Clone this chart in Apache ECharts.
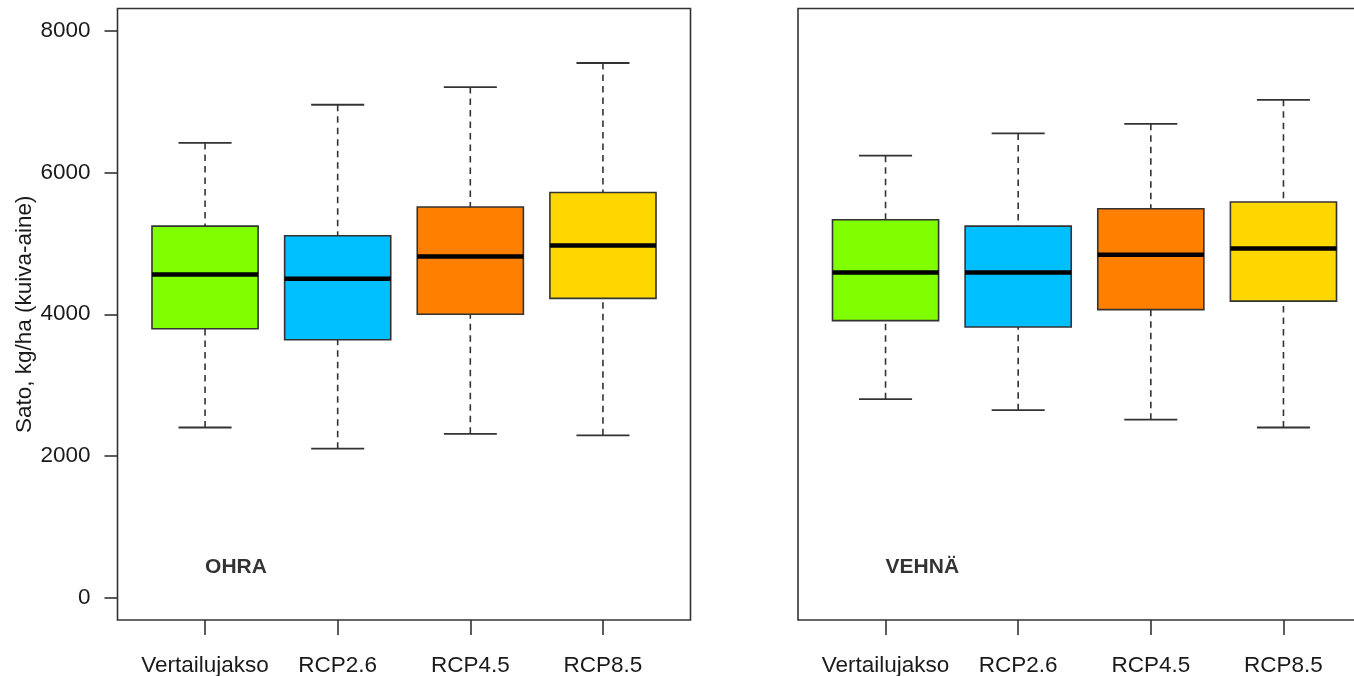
<!DOCTYPE html>
<html>
<head>
<meta charset="utf-8">
<title>Sato</title>
<script src="https://cdn.jsdelivr.net/npm/echarts@6/dist/echarts.min.js"></script>
<style>
  html, body { margin: 0; padding: 0; background: #ffffff; }
  #chart { width: 1354px; height: 676px; }
</style>
</head>
<body>
<div id="chart"></div>
<script>
// Jaksot / skenaariot
const categories = ['Vertailujakso', 'RCP2.6', 'RCP4.5', 'RCP8.5'];
const boxColors = ['#7FFF00', '#00BFFF', '#FF7F00', '#FFD700'];
const yTicks = [0, 2000, 4000, 6000, 8000];
const panelNames = ['OHRA', 'VEHNÄ'];

// Ohra: viiksien päät, kvartiilit ja mediaani (kg/ha)
const ohraMin    = [2400, 2100, 2310, 2290];
const ohraQ1     = [3795, 3640, 4000, 4225];
const ohraMedian = [4560, 4500, 4815, 4970];
const ohraQ3     = [5245, 5110, 5515, 5720];
const ohraMax    = [6420, 6960, 7210, 7550];

// Vehnä
const vehnaMin    = [2800, 2645, 2510, 2400];
const vehnaQ1     = [3910, 3820, 4065, 4185];
const vehnaMedian = [4590, 4590, 4840, 4930];
const vehnaQ3     = [5335, 5245, 5490, 5585];
const vehnaMax    = [6240, 6555, 6690, 7030];

const FONT = '"Liberation Sans", Arial, sans-serif';
const INK = '#1a1a1a';
const LINE = '#333333';
const TEXT_SIZE = 22.5;

function boxRows(mins, q1s, meds, q3s, maxs) {
  return categories.map((c, i) => [i + 1, mins[i], q1s[i], meds[i], q3s[i], maxs[i], i]);
}

function renderBox(params, api) {
  const x = api.value(0);
  const pMin = api.coord([x, api.value(1)]);
  const pQ1 = api.coord([x, api.value(2)]);
  const pMed = api.coord([x, api.value(3)]);
  const pQ3 = api.coord([x, api.value(4)]);
  const pMax = api.coord([x, api.value(5)]);
  const color = boxColors[api.value(6)];
  const boxW = api.size([0.8, 0])[0];
  const capW = api.size([0.4, 0])[0];
  const cx = pMed[0];
  const dashStyle = { stroke: LINE, lineWidth: 1.6, lineDash: [6.5, 5] };
  const solid = { stroke: LINE, lineWidth: 1.8 };
  return {
    type: 'group',
    children: [
      { type: 'line', shape: { x1: cx, y1: pMax[1], x2: cx, y2: pQ3[1] }, style: dashStyle },
      { type: 'line', shape: { x1: cx, y1: pMin[1], x2: cx, y2: pQ1[1] }, style: dashStyle },
      { type: 'line', shape: { x1: cx - capW / 2, y1: pMax[1], x2: cx + capW / 2, y2: pMax[1] }, style: solid },
      { type: 'line', shape: { x1: cx - capW / 2, y1: pMin[1], x2: cx + capW / 2, y2: pMin[1] }, style: solid },
      { type: 'rect', shape: { x: cx - boxW / 2, y: pQ3[1], width: boxW, height: pQ1[1] - pQ3[1] },
        style: { fill: color, stroke: LINE, lineWidth: 1.6 } },
      { type: 'line', shape: { x1: cx - boxW / 2, y1: pMed[1], x2: cx + boxW / 2, y2: pMed[1] },
        style: { stroke: '#000000', lineWidth: 4.5 } }
    ]
  };
}

const gridTop = 8.5, gridHeight = 611.5, gridWidth = 573;
const grids = [
  { left: 117.5, top: gridTop, width: gridWidth, height: gridHeight },
  { left: 798, top: gridTop, width: gridWidth, height: gridHeight }
].map(g => Object.assign(g, {
  show: true, borderColor: LINE, borderWidth: 1.6, backgroundColor: 'transparent',
  containLabel: false, outerBoundsMode: 'none'
}));

const xAxes = [0, 1].map(gi => ({
  type: 'value', gridIndex: gi, min: 0.34, max: 4.66, position: 'bottom',
  axisLine: { show: false, onZero: false },
  splitLine: { show: false },
  axisTick: { show: true, inside: false, length: 15, customValues: [1, 2, 3, 4], lineStyle: { color: LINE, width: 1.6 } },
  axisLabel: { show: true, customValues: [1, 2, 3, 4], margin: 34, fontSize: TEXT_SIZE, fontFamily: FONT, color: INK,
    formatter: v => categories[Math.round(v) - 1] }
}));

const yAxes = [0, 1].map(gi => ({
  type: 'value', gridIndex: gi, min: -320, max: 8320, position: 'left',
  name: gi === 0 ? 'Sato, kg/ha (kuiva-aine)' : '',
  nameLocation: 'middle', nameGap: 76,
  nameTextStyle: { fontSize: TEXT_SIZE, fontFamily: FONT, color: INK },
  axisLine: { show: false, onZero: false },
  splitLine: { show: false },
  axisTick: { show: gi === 0, inside: false, length: 13, customValues: yTicks, lineStyle: { color: LINE, width: 1.6 } },
  axisLabel: { show: gi === 0, customValues: yTicks, margin: 27, fontSize: TEXT_SIZE, fontFamily: FONT, color: INK,
    formatter: v => String(v) }
}));

const boxSets = [
  boxRows(ohraMin, ohraQ1, ohraMedian, ohraQ3, ohraMax),
  boxRows(vehnaMin, vehnaQ1, vehnaMedian, vehnaQ3, vehnaMax)
];

const series = [];
boxSets.forEach((rows, gi) => {
  series.push({
    type: 'custom', xAxisIndex: gi, yAxisIndex: gi,
    renderItem: renderBox,
    encode: { x: 0, y: [1, 2, 3, 4, 5] },
    data: rows, silent: true, clip: false
  });
  // Paneelin nimi alareunaan ensimmäisen laatikon kohdalle
  series.push({
    type: 'scatter', xAxisIndex: gi, yAxisIndex: gi,
    symbolSize: 0, silent: true,
    data: [[1, 430]],
    label: { show: true, position: 'right', distance: 0, formatter: panelNames[gi],
      fontSize: 21, fontWeight: 'bold', fontFamily: FONT, color: '#000000' }
  });
});

const chart = echarts.init(document.getElementById('chart'), null, { renderer: 'canvas' });
chart.setOption({
  animation: false,
  backgroundColor: '#ffffff',
  grid: grids,
  xAxis: xAxes,
  yAxis: yAxes,
  series: series
});
</script>
</body>
</html>
